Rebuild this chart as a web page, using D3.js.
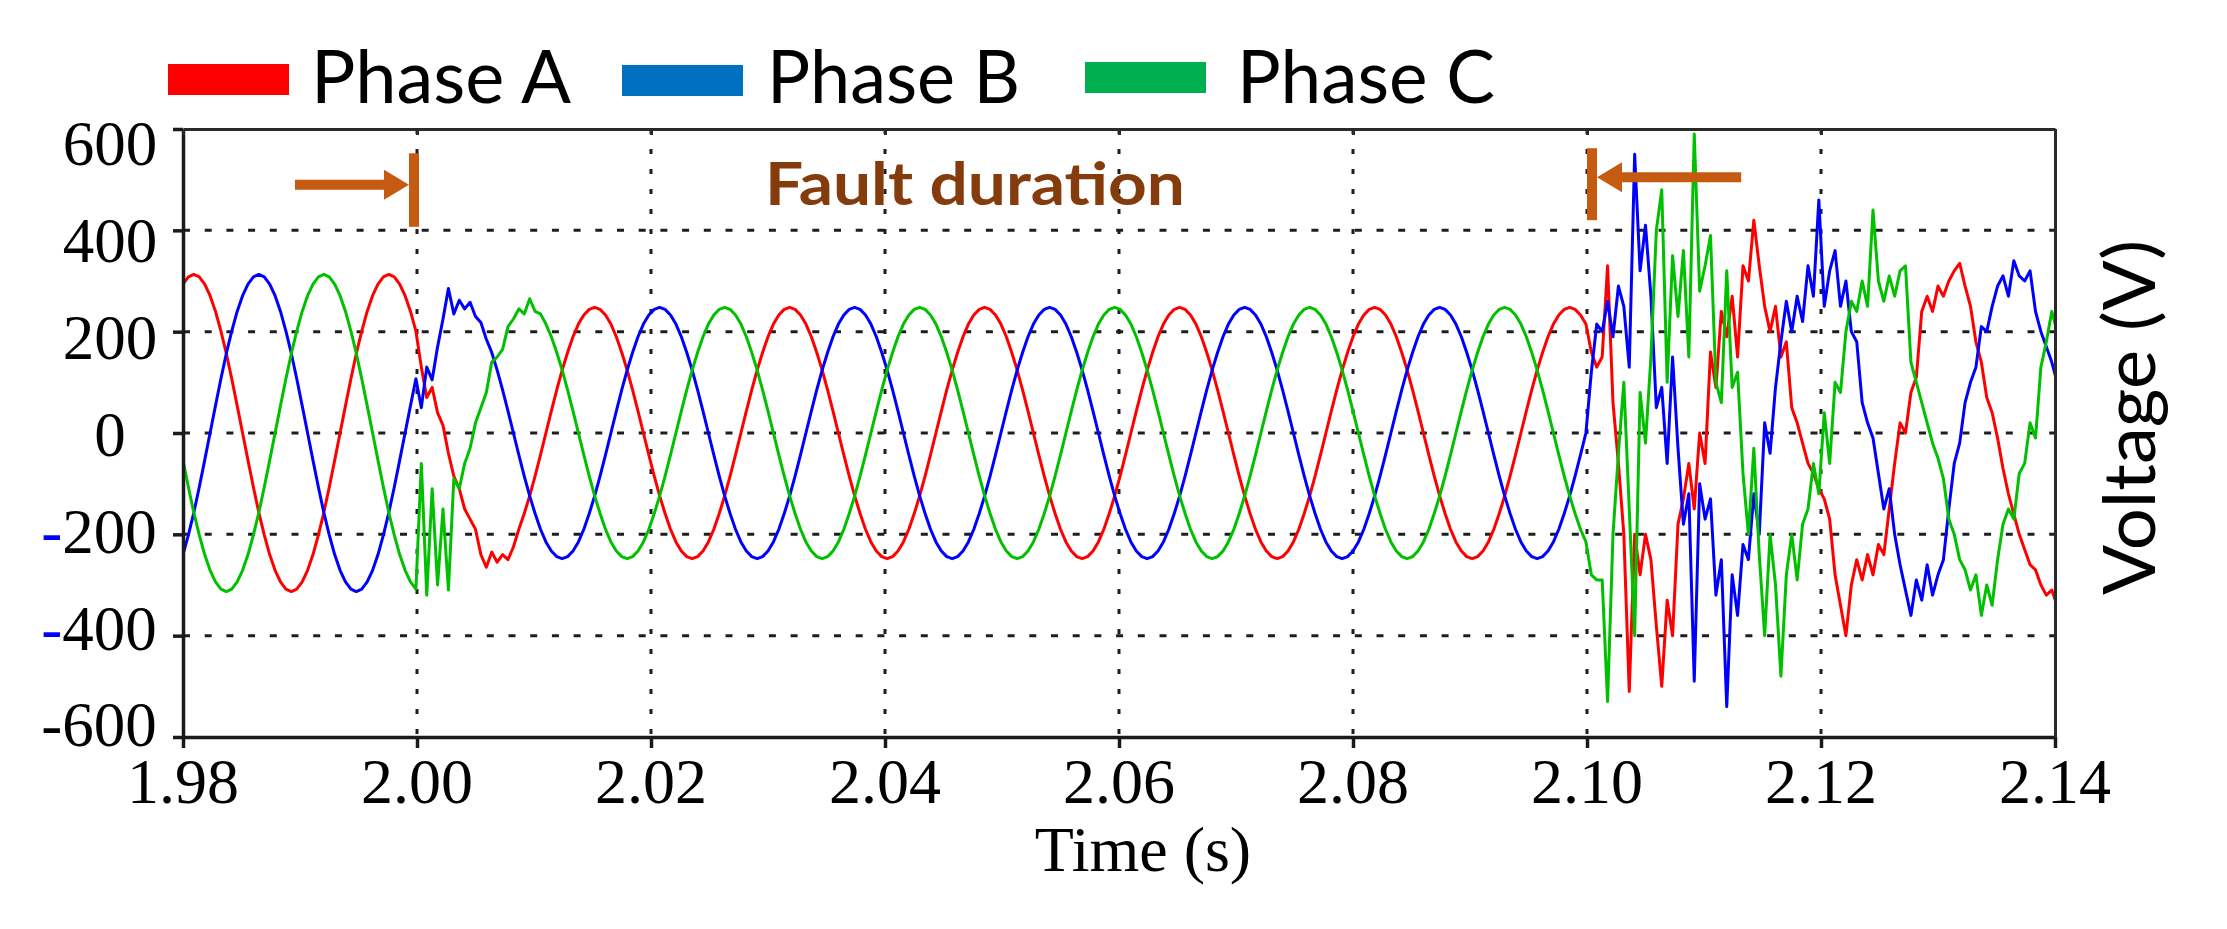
<!DOCTYPE html>
<html><head><meta charset="utf-8">
<script src="https://cdn.jsdelivr.net/npm/d3@7"></script>
<style>html,body{margin:0;padding:0;background:#fff;} svg{display:block;}</style>
</head><body>
<svg id="chart" width="2227" height="929"></svg>
<script>
// ---------------- DATA ----------------
const sampleRate = 2160;      // samples per second
const startTime = 1.98;       // time of first sample (s)
const phaseA = [
294,308,313,308,294,271,240,201,157,107,54,0,-54,-107,-157,-201,-240,-271,-294,-308,-313,-308,-294,-271,-240,-201,-157,-107,-54,0,54,107,157,201,240,271,294,308,313,308,294,271,240,201,
130,70,90,40,15,-40,-85,-110,-150,-170,-190,-240,-265,-235,-255,-240,-250,-225,
-190,-159,-124,-85,-43,0,43,85,124,159,190,215,233,244,
248,244,233,215,190,159,124,85,43,0,-43,-85,-124,-159,-190,-215,-233,-244,-248,-244,-233,-215,-190,-159,-124,-85,-43,0,43,85,124,159,190,215,233,244,
248,244,233,215,190,159,124,85,43,0,-43,-85,-124,-159,-190,-215,-233,-244,-248,-244,-233,-215,-190,-159,-124,-85,-43,0,43,85,124,159,190,215,233,244,
248,244,233,215,190,159,124,85,43,0,-43,-85,-124,-159,-190,-215,-233,-244,-248,-244,-233,-215,-190,-159,-124,-85,-43,0,43,85,124,159,190,215,233,244,
248,244,233,215,190,159,124,85,43,0,-43,-85,-124,-159,-190,-215,-233,-244,-248,-244,-233,-215,-190,-159,-124,-85,-43,0,43,85,124,159,190,215,233,244,
248,244,233,215,190,159,124,85,43,0,-43,-85,-124,-159,-190,-215,-233,-244,-248,-244,-233,-215,-190,-159,-124,-85,-43,0,43,85,124,159,190,215,233,244,
248,244,233,215,
160,130,150,330,60,-60,-200,-510,-200,-280,
-200,-250,-380,-500,-330,-400,-180,-130,-60,-150,
0,-60,160,90,240,190,270,150,330,300,
420,330,250,200,250,150,180,50,20,-20,
-60,-80,-110,-130,-170,-280,-340,-400,-300,-250,
-290,-240,-280,-220,-240,-150,-60,20,0,80,
110,240,270,240,290,270,300,320,335,290,
250,180,140,70,40,-10,-70,-120,-160,-200,
-230,-260,-270,-300,-320,-310,-340
];
const phaseB = [
-240,-201,-157,-107,-54,0,54,107,157,201,240,271,294,308,313,308,294,271,240,201,157,107,54,0,-54,-107,-157,-201,-240,-271,-294,-308,-313,-308,-294,-271,-240,-201,-157,-107,-54,0,54,107,
50,130,105,170,225,285,235,262,245,258,230,218,185,
159,124,85,43,0,-43,-85,-124,-159,-190,-215,-233,-244,-248,-244,-233,-215,-190,-159,-124,-85,-43,0,43,85,124,159,190,215,233,244,
248,244,233,215,190,159,124,85,43,0,-43,-85,-124,-159,-190,-215,-233,-244,-248,-244,-233,-215,-190,-159,-124,-85,-43,0,43,85,124,159,190,215,233,244,
248,244,233,215,190,159,124,85,43,0,-43,-85,-124,-159,-190,-215,-233,-244,-248,-244,-233,-215,-190,-159,-124,-85,-43,0,43,85,124,159,190,215,233,244,
248,244,233,215,190,159,124,85,43,0,-43,-85,-124,-159,-190,-215,-233,-244,-248,-244,-233,-215,-190,-159,-124,-85,-43,0,43,85,124,159,190,215,233,244,
248,244,233,215,190,159,124,85,43,0,-43,-85,-124,-159,-190,-215,-233,-244,-248,-244,-233,-215,-190,-159,-124,-85,-43,0,43,85,124,159,190,215,233,244,
248,244,233,215,190,159,124,85,43,0,-43,-85,-124,-159,-190,-215,-233,-244,-248,-244,-233,-215,-190,-159,-124,-85,-43,0,
120,215,200,260,190,290,250,130,550,320,
410,270,50,90,-60,150,-30,-180,-120,-490,
-100,-170,-130,-320,-250,-540,-280,-360,-220,-250,
-120,-200,20,-40,90,180,260,200,270,220,
330,270,460,250,320,360,250,300,200,180,
60,20,-10,-80,-150,-110,-200,-260,-310,-360,
-290,-330,-260,-320,-280,-250,-150,-60,-20,60,
100,130,210,200,250,290,310,270,340,310,
300,320,240,200,170,140,100
];
const phaseC = [
-54,-107,-157,-201,-240,-271,-294,-308,-313,-308,-294,-271,-240,-201,-157,-107,-54,0,54,107,157,201,240,271,294,308,313,308,294,271,240,201,157,107,54,0,-54,-107,-157,-201,-240,-271,-294,-308,
-60,-320,-110,-300,-150,-310,-90,-110,-60,-30,20,50,80,140,150,165,210,225,245,235,265,240,235,
215,190,159,124,85,43,0,-43,-85,-124,-159,-190,-215,-233,-244,-248,-244,-233,-215,-190,-159,-124,-85,-43,0,43,85,124,159,190,215,233,244,
248,244,233,215,190,159,124,85,43,0,-43,-85,-124,-159,-190,-215,-233,-244,-248,-244,-233,-215,-190,-159,-124,-85,-43,0,43,85,124,159,190,215,233,244,
248,244,233,215,190,159,124,85,43,0,-43,-85,-124,-159,-190,-215,-233,-244,-248,-244,-233,-215,-190,-159,-124,-85,-43,0,43,85,124,159,190,215,233,244,
248,244,233,215,190,159,124,85,43,0,-43,-85,-124,-159,-190,-215,-233,-244,-248,-244,-233,-215,-190,-159,-124,-85,-43,0,43,85,124,159,190,215,233,244,
248,244,233,215,190,159,124,85,43,0,-43,-85,-124,-159,-190,-215,-233,-244,-248,-244,-233,-215,-190,-159,-124,-85,-43,0,43,85,124,159,190,215,233,244,
248,244,233,215,190,159,124,85,43,0,-43,-85,-124,-159,-190,-215,
-280,-290,-290,-530,-200,-40,100,-150,-400,80,
-20,150,400,480,100,350,230,360,150,590,
280,330,390,100,60,320,90,120,-80,-200,
-30,-240,-400,-200,-300,-480,-280,-200,-290,-180,
-150,-60,-120,40,-60,100,80,200,260,240,
300,250,440,300,260,310,270,320,330,140,
100,60,20,-20,-50,-90,-170,-200,-250,-270,
-310,-280,-360,-300,-340,-250,-180,-150,-170,-80,
-60,20,-10,130,180,240,200
];
const seriesNames = ["Phase A", "Phase B", "Phase C"];
const xTicks = [1.98, 2.00, 2.02, 2.04, 2.06, 2.08, 2.10, 2.12, 2.14];
const xTickLabels = ["1.98", "2.00", "2.02", "2.04", "2.06", "2.08", "2.10", "2.12", "2.14"];
const yTicks = [600, 400, 200, 0, -200, -400, -600];
const yTickLabels = ["600", "400", "200", "0", "-200", "-400", "-600"];
const faultStart = 2.00, faultEnd = 2.10;
const xTitle = "Time (s)", yTitle = "Voltage (V)", faultLabel = "Fault duration";

// ---------------- STYLE / LAYOUT ----------------
const lineColors = ["#ff0000", "#0000ff", "#00c000"];
const swatchColors = ["#ff0000", "#0070c0", "#00b050"];
const serif = "'Liberation Serif','DejaVu Serif',serif";
const sans = "Lato,'Open Sans','Noto Sans',sans-serif";
const L = 183, R = 2055, T = 129, B = 737;

const svg = d3.select("#chart");
svg.append("rect").attr("width", 2227).attr("height", 929).attr("fill", "#fff");

const x = d3.scaleLinear().domain([1.98, 2.14]).range([L, R]);
const y = d3.scaleLinear().domain([-600, 600]).range([B, T]);
const yLabelPos = d3.scaleLinear().domain([600, -600]).range([143.5, 725]);

// grid
const grid = svg.append("g");
grid.selectAll("line.v").data(xTicks.slice(1, -1)).join("line")
  .attr("x1", d => x(d)).attr("x2", d => x(d)).attr("y1", T).attr("y2", B)
  .attr("stroke", "#1e1e1e").attr("stroke-width", 3).attr("stroke-dasharray", "5,15");
grid.selectAll("line.h").data(yTicks.slice(1, -1)).join("line")
  .attr("x1", L).attr("x2", R).attr("y1", d => y(d)).attr("y2", d => y(d))
  .attr("stroke", "#1e1e1e").attr("stroke-width", 3).attr("stroke-dasharray", "7,14.7");

// data lines
svg.append("clipPath").attr("id", "plotclip").append("rect")
  .attr("x", L).attr("y", T - 1).attr("width", R - L).attr("height", B - T + 1);
const line = d3.line().x((d, i) => x(startTime + i / sampleRate)).y(d => y(d));
const lines = svg.append("g").attr("clip-path", "url(#plotclip)");
[phaseA, phaseB, phaseC].forEach((s, i) => {
  lines.append("path").datum(s).attr("d", line).attr("fill", "none")
    .attr("stroke", lineColors[i]).attr("stroke-width", 3).attr("stroke-linejoin", "round");
});

// axes / frame
const axStyle = g => { g.selectAll("path,line").attr("stroke", "#1a1a1a"); g.selectAll("text").remove(); };
svg.append("g").attr("transform", `translate(0,${B})`)
  .call(d3.axisBottom(x).tickValues(xTicks).tickSizeInner(11).tickSizeOuter(0)).call(axStyle)
  .selectAll("path,line").attr("stroke-width", 3.5);
svg.append("g").attr("transform", `translate(${L},0)`)
  .call(d3.axisLeft(y).tickValues(yTicks).tickSizeInner(10).tickSizeOuter(0)).call(axStyle)
  .selectAll("path,line").attr("stroke-width", 3.5);
svg.append("g").attr("transform", `translate(0,${T})`)
  .call(d3.axisTop(x).tickValues(xTicks).tickSizeInner(-6).tickSizeOuter(0)).call(axStyle)
  .selectAll("path,line").attr("stroke-width", 3).attr("stroke", "#2a2a2a");
svg.append("g").attr("transform", `translate(${R},0)`)
  .call(d3.axisRight(y).tickValues([]).tickSizeOuter(0)).call(axStyle)
  .selectAll("path").attr("stroke-width", 3).attr("stroke", "#2a2a2a");

// tick labels
svg.append("g").selectAll("text").data(xTicks).join("text")
  .attr("x", d => x(d)).attr("y", 803).attr("text-anchor", "middle")
  .attr("font-family", serif).attr("font-size", 64).attr("fill", "#000")
  .text((d, i) => xTickLabels[i]);
const yl = svg.append("g").selectAll("text").data(yTicks).join("text")
  .attr("x", d => d < 0 ? 99 : 110).attr("y", d => yLabelPos(d)).attr("dy", "0.34em")
  .attr("text-anchor", "middle").attr("font-family", serif).attr("font-size", 63).attr("fill", "#000");
yl.each(function(d, i) {
  const t = d3.select(this), lab = yTickLabels[i];
  if (lab.startsWith("-")) {
    t.append("tspan").attr("fill", (d === -200 || d === -400) ? "#0000ff" : "#000").text("-");
    t.append("tspan").text(lab.slice(1));
  } else t.text(lab);
});

// axis titles
svg.append("text").attr("x", 1143).attr("y", 871).attr("text-anchor", "middle")
  .attr("font-family", serif).attr("font-size", 64).attr("fill", "#000").text(xTitle);
svg.append("text").attr("transform", "translate(2155,417.5) rotate(-90)").attr("text-anchor", "middle")
  .attr("font-family", sans).attr("font-size", 72).attr("fill", "#000")
  .attr("textLength", 355).attr("lengthAdjust", "spacingAndGlyphs").text(yTitle);

// legend
const legendX = [168, 622, 1085], legendSwY = [64, 65, 62], legendTextX = [311, 767, 1237], legendW = [260, 253, 258];
const lg = svg.append("g");
seriesNames.forEach((n, i) => {
  lg.append("rect").attr("x", legendX[i]).attr("y", legendSwY[i]).attr("width", 121).attr("height", 31).attr("fill", swatchColors[i]);
  lg.append("text").attr("x", legendTextX[i]).attr("y", 103).attr("font-family", sans).attr("font-size", 74)
    .attr("fill", "#000").attr("textLength", legendW[i]).attr("lengthAdjust", "spacingAndGlyphs").text(n);
});

// fault annotation
const orange = "#c55a11";
const ann = svg.append("g").attr("fill", orange);
ann.append("rect").attr("x", x(faultStart) - 8).attr("y", y(552)).attr("width", 10).attr("height", y(407) - y(552));
ann.append("rect").attr("x", x(faultEnd)).attr("y", y(562)).attr("width", 10).attr("height", y(420) - y(562));
function arrow(x0, x1, yc) { // shaft from x0 to tip x1
  const dir = Math.sign(x1 - x0), hl = 25, hh = 15, sh = 5;
  const hb = x1 - dir * hl;
  return `M${x0},${yc - sh}L${hb},${yc - sh}L${hb},${yc - hh}L${x1},${yc}L${hb},${yc + hh}L${hb},${yc + sh}L${x0},${yc + sh}Z`;
}
ann.append("path").attr("d", arrow(x(1.98957), x(faultStart) - 8, y(490)));
ann.append("path").attr("d", arrow(x(2.11318), x(faultEnd) + 10, y(505)));
svg.append("text").attr("x", x(2.04769)).attr("y", y(450)).attr("text-anchor", "middle")
  .attr("font-family", sans).attr("font-weight", "bold").attr("font-size", 60).attr("fill", "#843c0c")
  .attr("textLength", 420).attr("lengthAdjust", "spacingAndGlyphs").text(faultLabel);
</script>
</body></html>
